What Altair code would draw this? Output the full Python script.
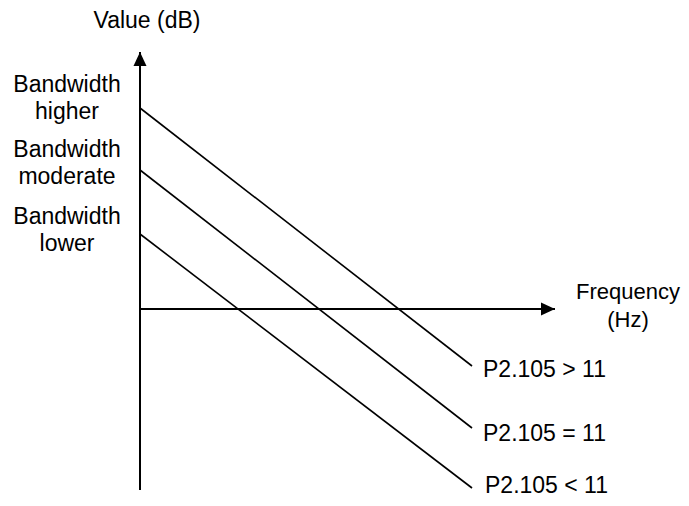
import altair as alt
import pandas as pd

# Schematic: value (dB) vs frequency (Hz), origin at axis intersection
series = ["higher", "moderate", "lower"]
freq_start = [0, 0, 0]
freq_end = [332, 332, 332]
value_start = [201, 139, 75]
value_end = [-57, -119, -179]

left_labels = ["Bandwidth\nhigher", "Bandwidth\nmoderate", "Bandwidth\nlower"]
left_label_f = [-73, -73, -73]
left_label_v = [224, 159, 92]

right_labels = ["P2.105 > 11", "P2.105 = 11", "P2.105 < 11"]
right_label_f = [343, 343, 345]
right_label_v = [-61, -125, -177]

axis_titles = ["Value (dB)", "Frequency\n(Hz)"]
axis_title_f = [7, 488]
axis_title_v = [288, 17]
axis_title_fs = [23, 22]

# axes extents
yaxis_f, yaxis_v0, yaxis_v1 = [0], [-181], [257]
xaxis_v, xaxis_f0, xaxis_f1 = [0], [0], [415]

X_DOMAIN = [-132, 541]
Y_DOMAIN = [-189, 301]
FONT = "Liberation Sans"
FS = 23

xs = alt.Scale(domain=X_DOMAIN, nice=False, zero=False)
ys = alt.Scale(domain=Y_DOMAIN, nice=False, zero=False)

rows = []
for s, f0, f1, v0, v1 in zip(series, freq_start, freq_end, value_start, value_end):
    rows.append({"series": s, "f": f0, "v": v0})
    rows.append({"series": s, "f": f1, "v": v1})
lines_df = pd.DataFrame(rows)

lines = alt.Chart(lines_df).mark_line(color="black", strokeWidth=1.6).encode(
    x=alt.X("f:Q", scale=xs, axis=None),
    y=alt.Y("v:Q", scale=ys, axis=None),
    detail="series:N",
)

yaxis_df = pd.DataFrame({"f": yaxis_f, "v0": yaxis_v0, "v1": yaxis_v1})
yaxis = alt.Chart(yaxis_df).mark_rule(color="black", strokeWidth=2).encode(
    x=alt.X("f:Q", scale=xs, axis=None),
    y=alt.Y("v0:Q", scale=ys, axis=None),
    y2="v1:Q",
)
yarrow = alt.Chart(yaxis_df).mark_point(
    shape="M0,0L0.93,2L-0.93,2Z", size=196, filled=True, color="black", opacity=1
).encode(
    x=alt.X("f:Q", scale=xs, axis=None),
    y=alt.Y("v1:Q", scale=ys, axis=None),
)

xaxis_df = pd.DataFrame({"v": xaxis_v, "f0": xaxis_f0, "f1": xaxis_f1})
xaxis = alt.Chart(xaxis_df).mark_rule(color="black", strokeWidth=2).encode(
    y=alt.Y("v:Q", scale=ys, axis=None),
    x=alt.X("f0:Q", scale=xs, axis=None),
    x2="f1:Q",
)
xarrow = alt.Chart(xaxis_df).mark_point(
    shape="M0,0L-2,-0.93L-2,0.93Z", size=196, filled=True, color="black", opacity=1
).encode(
    x=alt.X("f1:Q", scale=xs, axis=None),
    y=alt.Y("v:Q", scale=ys, axis=None),
)

left_df = pd.DataFrame({"t": left_labels, "f": left_label_f, "v": left_label_v})
left_text = alt.Chart(left_df).mark_text(
    font=FONT, fontSize=FS, align="center", baseline="middle", lineBreak="\n",
    lineHeight=27, color="black"
).encode(
    x=alt.X("f:Q", scale=xs, axis=None),
    y=alt.Y("v:Q", scale=ys, axis=None),
    text="t:N",
)

right_df = pd.DataFrame({"t": right_labels, "f": right_label_f, "v": right_label_v})
right_text = alt.Chart(right_df).mark_text(
    font=FONT, fontSize=FS, align="left", baseline="middle", color="black"
).encode(
    x=alt.X("f:Q", scale=xs, axis=None),
    y=alt.Y("v:Q", scale=ys, axis=None),
    text="t:N",
)

title_df = pd.DataFrame({"t": axis_titles, "f": axis_title_f, "v": axis_title_v,
                         "fs": axis_title_fs})
title_text = alt.Chart(title_df).mark_text(
    font=FONT, align="center", baseline="middle", lineBreak="\n",
    lineHeight=28, color="black"
).encode(
    x=alt.X("f:Q", scale=xs, axis=None),
    y=alt.Y("v:Q", scale=ys, axis=None),
    size=alt.Size("fs:Q", scale=None, legend=None),
    text="t:N",
)

chart = alt.layer(
    lines, yaxis, xaxis, yarrow, xarrow, left_text, right_text, title_text
).properties(
    width=673,
    height=490,
    padding=0,
    autosize=alt.AutoSizeParams(type="none"),
).configure_view(stroke=None)

chart.save("out.html", embed_options={"renderer": "svg", "actions": False})
